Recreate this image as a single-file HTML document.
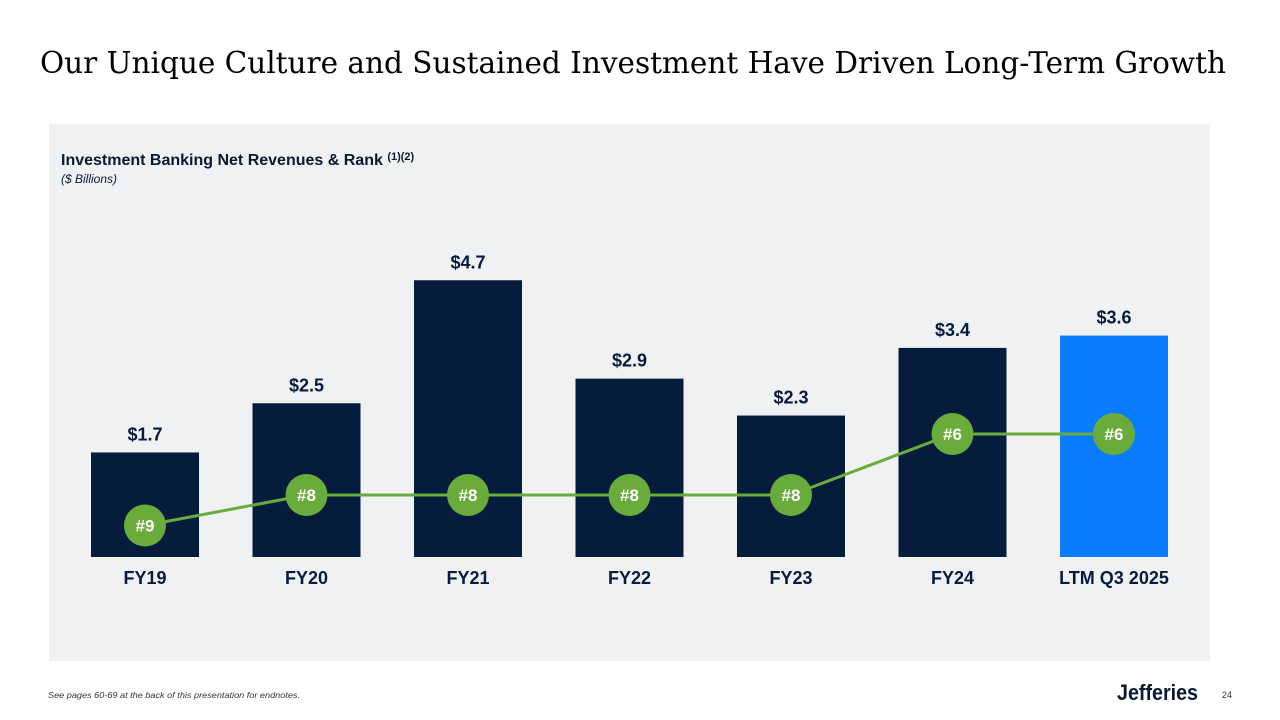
<!DOCTYPE html>
<html><head><meta charset="utf-8"><style>
html,body{margin:0;padding:0;background:#fff;width:1280px;height:720px;overflow:hidden}
svg{display:block;font-family:"Liberation Sans",sans-serif}
</style></head><body>
<svg id="chart" width="1280" height="720" viewBox="0 0 1280 720">
<text x="40" y="73" font-family="'DejaVu Serif',serif" font-size="30" fill="#000" textLength="1186" lengthAdjust="spacingAndGlyphs">Our Unique Culture and Sustained Investment Have Driven Long-Term Growth</text>
<rect x="49" y="124" width="1161" height="537" fill="#f0f1f3"/>
<text x="61" y="165" font-size="16" font-weight="bold" fill="#0a1a33">Investment Banking Net Revenues &amp; Rank <tspan font-size="11" dy="-5">(1)(2)</tspan></text>
<text x="61" y="183" font-size="12" font-style="italic" fill="#0a1a33">($ Billions)</text>
<g id="bars"></g><g id="line"></g>
<text x="48" y="698" font-size="8" font-style="italic" fill="#333" textLength="252" lengthAdjust="spacingAndGlyphs">See pages 60-69 at the back of this presentation for endnotes.</text>
<text x="1117" y="700" font-size="22" font-weight="bold" fill="#0a1a33" textLength="81" lengthAdjust="spacingAndGlyphs">Jefferies</text>
<text x="1222" y="698" font-size="9" fill="#333">24</text>
</svg>
<script>
const categories=["FY19","FY20","FY21","FY22","FY23","FY24","LTM Q3 2025"];
const values=[1.7,2.5,4.5,2.9,2.3,3.4,3.6];
const valueLabels=["$1.7","$2.5","$4.7","$2.9","$2.3","$3.4","$3.6"];
const ranks=[9,8,8,8,8,6,6];
const NS="http://www.w3.org/2000/svg";
const base=557,scale=61.5,x0=145,step=161.5,bw=108;
const xs=i=>x0+i*step;
const ys=v=>base-v*scale;
const yr=r=>495+(r-8)*30.5;
function mk(t,a,p,txt){const e=document.createElementNS(NS,t);for(const k in a)e.setAttribute(k,a[k]);if(txt!=null)e.textContent=txt;p.appendChild(e);return e;}
const gb=document.getElementById('bars'),gl=document.getElementById('line');
categories.forEach((c,i)=>{
 const r=mk('rect',{x:xs(i)-bw/2,y:ys(values[i]),width:bw,height:base-ys(values[i]),fill:i==6?'#0a7cff':'#061c3d'},gb);
 
 
 const v=mk('text',{x:xs(i),y:ys(values[i])-12,'text-anchor':'middle','font-size':18,'font-weight':'bold',fill:'#061c3d'},gb,valueLabels[i]);
 
 
 const l=mk('text',{x:xs(i),y:584,'text-anchor':'middle','font-size':18,'font-weight':'bold',fill:'#061c3d'},gb,c);
 
 
});
const pts=ranks.map((r,i)=>xs(i)+','+yr(r)).join(' ');
const pl=mk('polyline',{points:pts,fill:'none',stroke:'#6aac3c','stroke-width':3},gl);


ranks.forEach((r,i)=>{
 const c=mk('circle',{cx:xs(i),cy:yr(r),r:21,fill:'#6aac3c'},gl);
 
 
 const t=mk('text',{x:xs(i),y:yr(r)+6,'text-anchor':'middle','font-size':17,'font-weight':'bold',fill:'#fff'},gl,'#'+r);
 
 
});
</script>
</body></html>
